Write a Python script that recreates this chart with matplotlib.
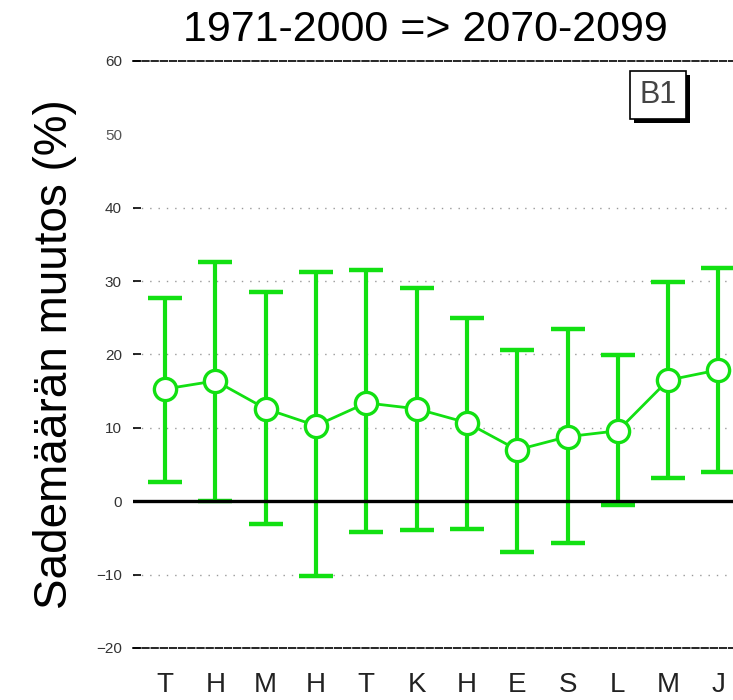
import matplotlib.pyplot as plt
import matplotlib.patheffects as pe

plt.rcParams['font.family'] = ['Liberation Sans', 'DejaVu Sans']

# Monthly precipitation change, 1971-2000 -> 2070-2099, scenario B1
months = ['T', 'H', 'M', 'H', 'T', 'K', 'H', 'E', 'S', 'L', 'M', 'J']
mean_change = [15.3, 16.4, 12.6, 10.3, 13.4, 12.6, 10.7, 7.0, 8.8, 9.6, 16.5, 17.9]
upper = [27.7, 32.6, 28.5, 31.2, 31.5, 29.0, 25.0, 20.6, 23.5, 19.9, 29.9, 31.8]
lower = [2.6, 0.0, -3.1, -10.2, -4.2, -3.9, -3.8, -6.9, -5.7, -0.5, 3.2, 4.0]
yticks = [-20, -10, 0, 10, 20, 30, 40, 60]
yticks_unmarked = [50]
grid_levels = [-10, 10, 20, 30, 40]

green = '#12e012'
x = list(range(1, len(months) + 1))
err = [[m - lo for m, lo in zip(mean_change, lower)],
       [hi - m for m, hi in zip(mean_change, upper)]]

fig = plt.figure(figsize=(7.33, 7.0), dpi=100)
ax = fig.add_axes([0.1814, 0.0743, 0.8186, 0.8386])

for lvl in grid_levels:
    ax.axhline(lvl, color='#999999', lw=1.0, ls=(0, (1, 5)), zorder=1)
ax.axhline(0, color='black', lw=2.4, zorder=4)

ax.errorbar(x, mean_change, yerr=err, fmt='none', ecolor=green,
            elinewidth=3, capsize=12, capthick=3.2, zorder=3)
ax.plot(x, mean_change, color=green, lw=2, marker='o', markersize=16,
        markerfacecolor='white', markeredgecolor=green, markeredgewidth=2.4,
        zorder=5)

ax.set_xlim(0.36, 12.29)
ax.set_ylim(-20, 60)
ax.set_yticks(yticks)
# 50 gets a label but no tick mark
ax.set_yticks(yticks_unmarked, labels=[str(v) for v in yticks_unmarked],
              minor=True)
ax.set_xticks(x)
ax.set_xticklabels(months, fontsize=20, color='#222222')
ax.tick_params(axis='x', length=0, pad=17)
ax.tick_params(axis='y', direction='in', length=6, width=1.2,
               labelsize=11, labelcolor='#333333', pad=8)
ax.tick_params(axis='y', which='minor', direction='in', length=0,
               labelsize=11, labelcolor='#555555', pad=8)

for side in ['left', 'right']:
    ax.spines[side].set_visible(False)
for side in ['top', 'bottom']:
    ax.spines[side].set_linestyle((0, (4, 1.5)))
    ax.spines[side].set_linewidth(1.2)

ax.set_ylabel('Sademäärän muutos (%)', fontsize=33, labelpad=14)
fig.text(0.58, 0.957, '1971-2000 => 2070-2099', fontsize=31,
         ha='center', va='center')

label = ax.text(0.875, 55.4, 'B1', fontsize=22, color='#444444',
                ha='center', va='center', transform=ax.get_yaxis_transform(),
                bbox=dict(boxstyle='square,pad=0.3', fc='white', ec='black',
                          lw=1.2))
label.get_bbox_patch().set_path_effects([
    pe.SimplePatchShadow(offset=(3, -3), shadow_rgbFace='black', alpha=1.0),
    pe.Normal()])

fig.savefig('out.png', dpi=100, facecolor='white')
